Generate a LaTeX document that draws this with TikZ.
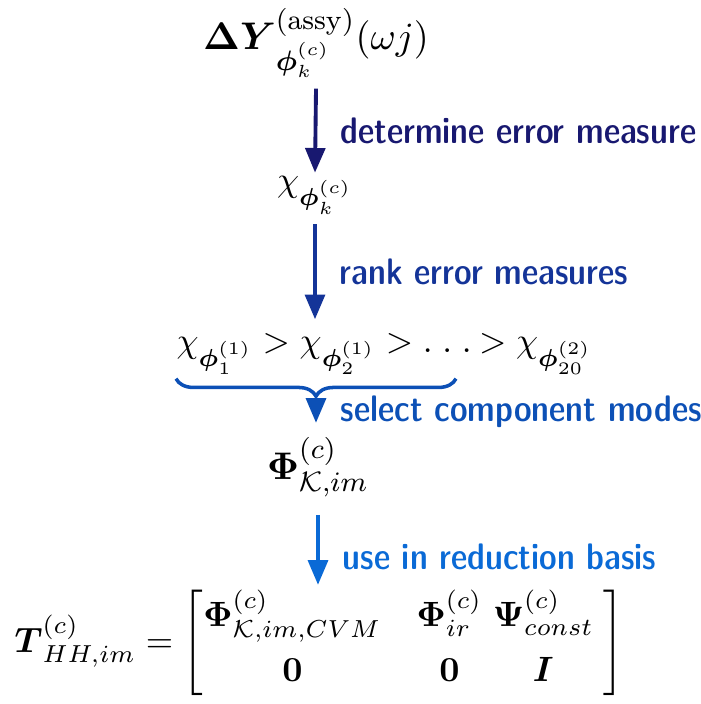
\documentclass[tikz,border=0pt,11pt]{standalone}
\usepackage{amsmath,amssymb}
\usetikzlibrary{arrows.meta,calc,decorations.pathreplacing}

\definecolor{stepa}{RGB}{24,24,112}
\definecolor{stepb}{RGB}{20,52,152}
\definecolor{stepc}{RGB}{12,80,182}
\definecolor{stepd}{RGB}{10,106,214}

\begin{document}
\begin{tikzpicture}[x=0.01cm,y=-0.01cm,inner sep=0pt,
  formula/.style={font=\fontsize{#1}{14}\selectfont},
  flowarrow/.style={line width=1.1pt,-{Triangle[length=7pt,width=5.6pt]}},
  flowlabel/.style={anchor=west,xshift=6.5pt,
    font=\fontsize{10.5}{13}\selectfont\sffamily\fontseries{sbc}\selectfont}]
% pixel grid of the 700x704 frame, y running down
\useasboundingbox (0,0) rectangle (700,704);

% the quantities, one under the other on the x=315 axis
\node[formula=10.8,anchor=base] (dY) at (316,50)
  {$\boldsymbol{\Delta Y}^{(\mathrm{assy})}_{\boldsymbol{\phi}^{(c)}_k}(\omega j)$};
\node[formula=10.4,anchor=base] (chi) at (315,192)
  {$\chi_{\boldsymbol{\phi}^{(c)}_k}$};
\node[formula=9.7,anchor=base west] (rankA) at (176,353)
  {$\chi_{\boldsymbol{\phi}^{(1)}_1} > \chi_{\boldsymbol{\phi}^{(1)}_2} > .\;.\;.$};
\node[formula=9.7,anchor=base west] (rankB) at (rankA.base east)
  {$\mathrel{\,>} \chi_{\boldsymbol{\phi}^{(2)}_{20}}$};
\node[formula=10.8,anchor=base] (phi) at (318,479)
  {$\mathbf{\Phi}^{(c)}_{\mathcal{K},im}$};
% the matrix keeps its own column gaps
\node[formula=10,anchor=base west] (trafo) at (14,652)
  {$\boldsymbol{T}^{(c)}_{HH,im} = \left[\renewcommand{\arraystretch}{1.1}
   \begin{array}{@{}c@{\hspace{10pt}}c@{\hspace{3pt}}c@{\;}}
     \mathbf{\Phi}^{(c)}_{\mathcal{K},im,CVM} & \mathbf{\Phi}^{(c)}_{ir} & \mathbf{\Psi}^{(c)}_{const}\\
     \mathbf{0} & \mathbf{0} & \boldsymbol{I}
   \end{array}\right]$};

% brace under the kept part of the ranking
\coordinate (braceL) at ([yshift=-1pt]rankA.south west);
\coordinate (braceR) at ($(braceL)+(280,0)$);
\draw[stepc,line width=1pt,decorate,decoration={brace,mirror,amplitude=5pt}]
  (braceL) -- (braceR);
\coordinate (bracetip) at ([yshift=-6pt]$(braceL)!0.5!(braceR)$);

% steps
\draw[flowarrow,stepa] ([yshift=-3pt]dY.south) -- ([yshift=1pt]chi.north)
  node[flowlabel,midway,text=stepa] (lblA) {determine error measure};
\draw[flowarrow,stepb] ([yshift=-2.5pt]chi.south) -- ([yshift=4pt]chi.south |- rankA.north)
  node[flowlabel,midway,text=stepb] (lblB) {rank error measures};
\draw[flowarrow,stepc] (bracetip) -- ([yshift=4pt]bracetip |- phi.north)
  node[flowlabel,midway,text=stepc] (lblC) {select component modes};
\draw[flowarrow,stepd] ([yshift=-5pt]phi.south) -- ([yshift=1pt]phi.south |- trafo.north)
  node[flowlabel,midway,yshift=-2pt,text=stepd] (lblD) {use in reduction basis};
\end{tikzpicture}
\end{document}
